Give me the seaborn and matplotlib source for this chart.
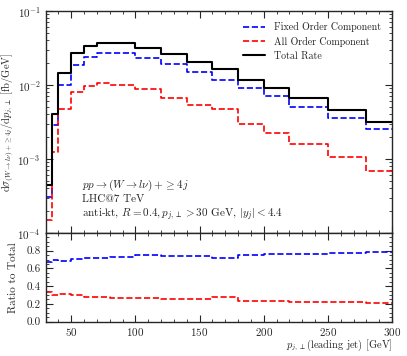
import matplotlib
matplotlib.use('Agg')
import matplotlib.pyplot as plt
import numpy as np
import pandas as pd
import seaborn as sns
from matplotlib.ticker import MultipleLocator, FormatStrFormatter, LogLocator, NullFormatter

# bin edges of leading jet pT [GeV]
bin_edges = [30, 35, 40, 50, 60, 70, 80, 100, 120, 140, 160, 180, 200, 220, 250, 280, 300]

# dsigma/dpT per bin [fb/GeV]
fixed_order = [0.000303, 0.00288, 0.0099, 0.0186, 0.0241, 0.0268, 0.0268, 0.0234, 0.0190,
               0.0151, 0.0117, 0.0090, 0.00718, 0.00509, 0.00355, 0.00254]
all_order = [0.000150, 0.00126, 0.0047, 0.00796, 0.0098, 0.0107, 0.0100, 0.00875, 0.0066,
             0.00538, 0.00474, 0.00297, 0.00222, 0.00160, 0.00105, 0.000695]
total_rate = [0.000446, 0.00405, 0.0147, 0.0268, 0.0340, 0.0373, 0.0366, 0.0319, 0.0259,
              0.0205, 0.0163, 0.0117, 0.0092, 0.00667, 0.00459, 0.00313]

# ratio to total per bin
ratio_fixed = [0.667, 0.690, 0.678, 0.705, 0.715, 0.722, 0.731, 0.747, 0.745,
               0.742, 0.712, 0.754, 0.766, 0.768, 0.773, 0.785]
ratio_all = [0.328, 0.305, 0.316, 0.297, 0.282, 0.278, 0.270, 0.268, 0.257,
             0.255, 0.282, 0.236, 0.229, 0.226, 0.221, 0.213]


def steps(values):
    # repeat the last bin value so steps-post reaches the upper edge
    return pd.DataFrame({'x': bin_edges, 'y': list(values) + [values[-1]]})


sns.set_style('ticks')
plt.rcParams['font.family'] = 'serif'
plt.rcParams['font.serif'] = ['cmr10']
plt.rcParams['mathtext.fontset'] = 'cm'
plt.rcParams['axes.formatter.use_mathtext'] = True
plt.rcParams['axes.unicode_minus'] = False
plt.rcParams['font.size'] = 8

fig = plt.figure(figsize=(4.07, 3.56), dpi=100)
ax = fig.add_axes([0.112, 0.3455, 0.8513, 0.6235])
ax_r = fig.add_axes([0.112, 0.0969, 0.8513, 0.2486])

line_kw = dict(estimator=None, sort=False, drawstyle='steps-post')
sns.lineplot(data=steps(fixed_order), x='x', y='y', ax=ax, color='blue', linestyle='--',
             linewidth=1.2, label='Fixed Order Component', **line_kw)
sns.lineplot(data=steps(all_order), x='x', y='y', ax=ax, color='red', linestyle='--',
             linewidth=1.2, label='All Order Component', **line_kw)
sns.lineplot(data=steps(total_rate), x='x', y='y', ax=ax, color='black', linestyle='-',
             linewidth=1.5, label='Total Rate', **line_kw)

ax.set_yscale('log')
ax.set_xlim(30, 300)
ax.set_ylim(1e-4, 1e-1)
ax.set_xlabel('')
ax.set_ylabel(r'$\mathrm{d}\sigma_{(W\to l\nu)+\geq 4j}/\mathrm{d}p_{j,\perp}$ [fb/GeV]', fontsize=7.5)
ax.yaxis.set_label_coords(-0.087, 0.5)
ax.xaxis.set_major_locator(MultipleLocator(50))
ax.xaxis.set_minor_locator(MultipleLocator(10))
ax.yaxis.set_minor_locator(LogLocator(base=10, subs=np.arange(2, 10)))
ax.yaxis.set_minor_formatter(NullFormatter())
ax.tick_params(axis='x', labelbottom=False)
ax.legend(loc='upper right', frameon=False, fontsize=7.2, handlelength=2.2,
          handletextpad=0.9, borderaxespad=0.7, labelspacing=0.45)

ax.text(0.105, 0.25, r'$pp\to(W\to l\nu)+\geq 4j$' + '\nLHC@7 TeV\n'
        + r'anti-kt, $R=0.4, p_{j,\perp}>30$ GeV, $|y_j|<4.4$',
        transform=ax.transAxes, fontsize=8, va='top', ha='left', linespacing=1.25)

sns.lineplot(data=steps(ratio_fixed), x='x', y='y', ax=ax_r, color='blue', linestyle='--',
             linewidth=1.2, **line_kw)
sns.lineplot(data=steps(ratio_all), x='x', y='y', ax=ax_r, color='red', linestyle='--',
             linewidth=1.2, **line_kw)
ax_r.set_xlim(30, 300)
ax_r.set_ylim(0, 1.0)
ax_r.set_yticks([0.0, 0.2, 0.4, 0.6, 0.8])
ax_r.yaxis.set_major_formatter(FormatStrFormatter('%.1f'))
ax_r.yaxis.set_minor_locator(MultipleLocator(0.05))
ax_r.xaxis.set_major_locator(MultipleLocator(50))
ax_r.xaxis.set_minor_locator(MultipleLocator(10))
ax_r.set_ylabel('Ratio to Total', fontsize=8)
ax_r.yaxis.set_label_coords(-0.079, 0.5)
ax_r.set_xlabel(r'$p_{j,\perp}$(leading jet) [GeV]', fontsize=7.5, loc='right')
ax_r.xaxis.set_label_coords(1.0, -0.18)

for a in (ax, ax_r):
    a.tick_params(which='both', direction='in', top=True, right=True, labelsize=8)
    a.tick_params(which='major', length=5, width=0.8)
    a.tick_params(which='minor', length=2.5, width=0.6)
    for s in a.spines.values():
        s.set_linewidth(1.0)

fig.savefig('out.png', dpi=100)
